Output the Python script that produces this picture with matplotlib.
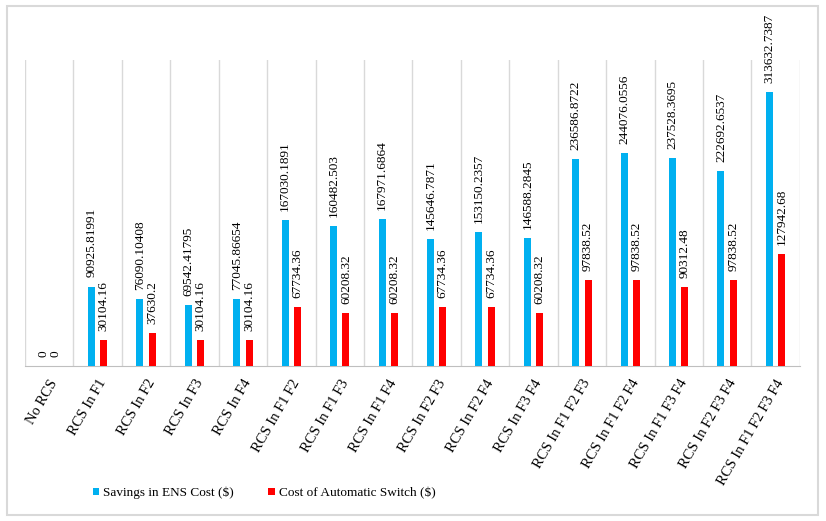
import numpy as np
import matplotlib
matplotlib.use('Agg')
import matplotlib.pyplot as plt
from matplotlib.patches import Rectangle, Patch

plt.rcParams['font.family'] = ['Liberation Serif', 'DejaVu Serif']

# ── DATA ──
categories = [
    'No RCS', 'RCS In F1', 'RCS In F2', 'RCS In F3', 'RCS In F4',
    'RCS In F1 F2', 'RCS In F1 F3', 'RCS In F1 F4', 'RCS In F2 F3',
    'RCS In F2 F4', 'RCS In F3 F4', 'RCS In F1 F2 F3',
    'RCS In F1 F2 F4', 'RCS In F1 F3 F4', 'RCS In F2 F3 F4',
    'RCS In F1 F2 F3 F4']

savings_ens = [
    0, 90925.81991, 76090.10408, 69542.41795, 77045.86654,
    167030.1891, 160482.503, 167971.6864, 145646.7871,
    153150.2357, 146588.2845, 236586.8722, 244076.0556,
    237528.3695, 222692.6537, 313632.7387]

switch_cost = [
    0, 30104.16, 37630.2, 30104.16, 30104.16,
    67734.36, 60208.32, 60208.32, 67734.36,
    67734.36, 60208.32, 97838.52, 97838.52,
    90312.48, 97838.52, 127942.68]

series_names = ['Savings in ENS Cost ($)', 'Cost of Automatic Switch ($)']
series_colors = ['#00B0F0', '#FF0000']

# ── PLOT ──
fig = plt.figure(figsize=(8.26, 5.21), dpi=100)
ax = fig.add_axes([0.0303, 0.2975, 0.938, 0.5873])

x = np.arange(len(categories))
w = 0.145
off = 0.128

for vals, dx, col in zip([savings_ens, switch_cost], [-off, off],
                         series_colors):
    bars = ax.bar(x + dx, vals, width=w, color=col, zorder=3)
    for b, v in zip(bars, vals):
        ax.annotate(f"{v:.10g}",
                    (b.get_x() + b.get_width() / 2, b.get_height()),
                    xytext=(0, 6.5), textcoords='offset points',
                    rotation=90, ha='center', va='bottom',
                    fontsize=9.5)

ax.set_xlim(-0.5, len(categories) - 0.5)
ax.set_ylim(0, 350000)

# category separators
ax.set_xticks(np.arange(-0.5, len(categories), 1), minor=True)
ax.grid(which='minor', axis='x', color='#D9D9D9', lw=1, zorder=0)
ax.tick_params(which='minor', length=0)

ax.set_xticks(x)
ax.set_xticklabels(categories, rotation=60, ha='right',
                   rotation_mode='anchor', fontsize=10.5)
ax.tick_params(axis='x', which='major', length=0, pad=8)
ax.set_yticks([])

for s in ['left', 'right', 'top']:
    ax.spines[s].set_visible(False)
ax.spines['bottom'].set_color('#BFBFBF')

# legend
handles = [Patch(facecolor=c, edgecolor='none') for c in series_colors]
fig.legend(handles, series_names, loc='center',
           bbox_to_anchor=(0.32, 0.054), ncol=2, frameon=False,
           fontsize=9.5, handlelength=0.5, handleheight=0.5,
           handletextpad=0.3, columnspacing=2.6)

# chart border
fig.patches.append(Rectangle((0.0085, 0.0115), 0.9818, 0.977,
                             transform=fig.transFigure, fill=False,
                             edgecolor='#D9D9D9', lw=1.5))

plt.savefig('out.png', dpi=100)
